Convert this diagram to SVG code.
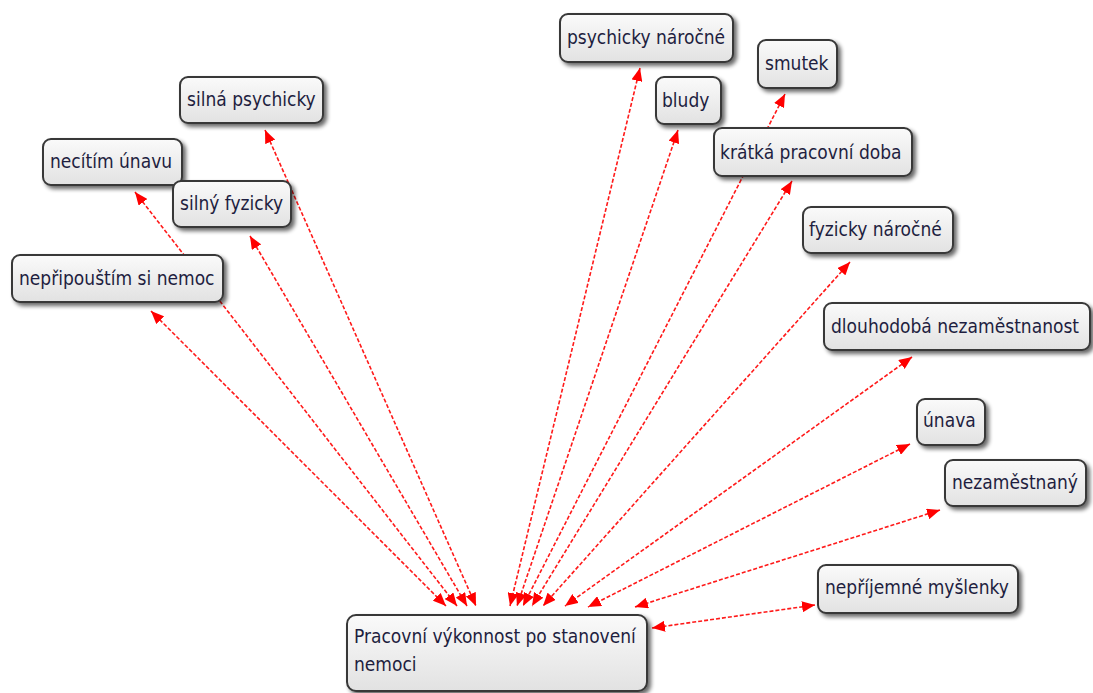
<svg xmlns="http://www.w3.org/2000/svg" width="1093" height="693" viewBox="0 0 1093 693">
  <defs>
    <linearGradient id="boxFill" x1="0" y1="0" x2="0" y2="1">
      <stop offset="0" stop-color="#fafafa"/>
      <stop offset="1" stop-color="#e2e2e2"/>
    </linearGradient>
    <filter id="shadow" x="-10%" y="-20%" width="130%" height="160%">
      <feGaussianBlur in="SourceAlpha" stdDeviation="2"/>
      <feOffset dx="3" dy="3" result="blur"/>
      <feComponentTransfer><feFuncA type="linear" slope="0.6"/></feComponentTransfer>
      <feMerge><feMergeNode/><feMergeNode in="SourceGraphic"/></feMerge>
    </filter>
    <marker id="arrow" viewBox="0 0 13 11" refX="13" refY="5.5" markerWidth="13" markerHeight="11" markerUnits="userSpaceOnUse" orient="auto-start-reverse">
      <path d="M0,0 L13,5.5 L0,11 z" fill="#ff0000"/>
    </marker>
  </defs>
  <style>
    .node rect { fill: url(#boxFill); stroke: #383838; stroke-width: 2; filter: url(#shadow); }
    .node text { font-family: "DejaVu Sans Condensed", "DejaVu Sans", sans-serif; font-size: 19px; fill: #1e1e40; }
    .link { fill: none; stroke: #ff1a1a; stroke-width: 1.6; stroke-dasharray: 4 2; marker-start: url(#arrow); marker-end: url(#arrow); }
  </style>
  <rect width="1093" height="693" fill="#ffffff"/>

  <!-- connectors: each runs from the outer topic to the central node -->
  <g id="connectors">
    <path class="link" d="M151,311 L446,606"/>
    <path class="link" d="M135,192 L457,606"/>
    <path class="link" d="M250,236 L467,606"/>
    <path class="link" d="M265,130 L476,606"/>
    <path class="link" d="M640,68 L510,606"/>
    <path class="link" d="M678,130 L517,606"/>
    <path class="link" d="M785,94 L523,606"/>
    <path class="link" d="M792,181 L532,606"/>
    <path class="link" d="M850,262 L543,606"/>
    <path class="link" d="M912,357 L565,606"/>
    <path class="link" d="M910,444 L588,607"/>
    <path class="link" d="M940,510 L635,607"/>
    <path class="link" d="M815,605 L652,628"/>
  </g>

  <!-- outer topics -->
  <g id="node-psychicky-narocne" class="node">
    <rect x="560" y="14" width="173" height="48" rx="8"/>
    <text x="567" y="44">psychicky náročné</text>
  </g>
  <g id="node-smutek" class="node">
    <rect x="758" y="40" width="79" height="48" rx="8"/>
    <text x="765" y="70">smutek</text>
  </g>
  <g id="node-bludy" class="node">
    <rect x="656" y="77" width="65" height="47" rx="8"/>
    <text x="662" y="107">bludy</text>
  </g>
  <g id="node-kratka-pracovni-doba" class="node">
    <rect x="714" y="128" width="198" height="48" rx="8"/>
    <text x="720" y="159">krátká pracovní doba</text>
  </g>
  <g id="node-fyzicky-narocne" class="node">
    <rect x="803" y="207" width="150" height="46" rx="8"/>
    <text x="809" y="236">fyzicky náročné</text>
  </g>
  <g id="node-dlouhodoba-nezamestnanost" class="node">
    <rect x="824" y="303" width="266" height="47" rx="8"/>
    <text x="831" y="333">dlouhodobá nezaměstnanost</text>
  </g>
  <g id="node-unava" class="node">
    <rect x="917" y="399" width="68" height="46" rx="8"/>
    <text x="923" y="427">únava</text>
  </g>
  <g id="node-nezamestnany" class="node">
    <rect x="945" y="460" width="141" height="46" rx="8"/>
    <text x="952" y="489">nezaměstnaný</text>
  </g>
  <g id="node-neprijemne-myslenky" class="node">
    <rect x="818" y="565" width="200" height="48" rx="8"/>
    <text x="825" y="594">nepříjemné myšlenky</text>
  </g>
  <g id="node-silna-psychicky" class="node">
    <rect x="180" y="77" width="143" height="46" rx="8"/>
    <text x="187" y="106">silná psychicky</text>
  </g>
  <g id="node-necitim-unavu" class="node">
    <rect x="43" y="139" width="139" height="46" rx="8"/>
    <text x="50" y="168">necítím únavu</text>
  </g>
  <g id="node-silny-fyzicky" class="node">
    <rect x="173" y="181" width="118" height="46" rx="8"/>
    <text x="180" y="210">silný fyzicky</text>
  </g>
  <g id="node-nepripoustim-si-nemoc" class="node">
    <rect x="12" y="255" width="211" height="47" rx="8"/>
    <text x="19" y="285">nepřipouštím si nemoc</text>
  </g>

  <!-- central node -->
  <g id="node-pracovni-vykonnost" class="node">
    <rect x="347" y="615" width="300" height="76" rx="9"/>
    <text x="354" y="643">Pracovní výkonnost po stanovení</text>
    <text x="354" y="671">nemoci</text>
  </g>
</svg>
